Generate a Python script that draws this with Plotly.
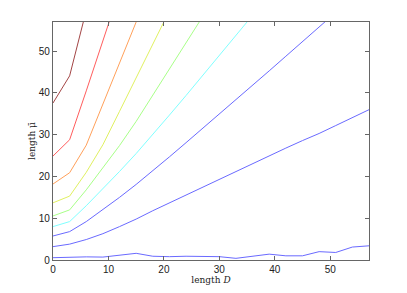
import plotly.graph_objects as go

# contour lines (x = length D, y = length mu-bar)
x_darkred = [0, 3, 6]
y_darkred = [37.6, 44.1, 59.8]

x_red = [0, 3, 6, 9, 12]
y_red = [24.9, 28.8, 40.5, 52.5, 64.5]

x_orange = [0, 3, 6, 9, 12, 15, 18]
y_orange = [18.2, 20.9, 27.5, 37.2, 47.1, 57.0, 67.0]

x_yellow = [0, 3, 6, 9, 12, 15, 18, 21]
y_yellow = [13.7, 15.3, 21.0, 27.6, 35.6, 43.6, 51.6, 59.7]

x_green = [0, 3, 6, 9, 12, 15, 18, 21, 24, 27]
y_green = [10.55, 12.0, 16.8, 22.0, 27.4, 33.2, 39.4, 45.7, 52.0, 58.3]

x_cyan = [0, 3, 6, 9, 12, 15, 18, 21, 24, 27, 30, 33, 36]
y_cyan = [8.0, 9.2, 13.0, 17.0, 21.2, 25.5, 30.0, 34.7, 39.4, 44.2, 49.0, 53.8, 58.6]

x_blue1 = [0, 3, 6, 9, 12, 15, 18, 21, 24, 27, 30, 33, 36, 39, 42, 45, 48, 51]
y_blue1 = [5.75, 6.8, 9.2, 12.0, 15.0, 18.1, 21.3, 24.7, 28.1, 31.5, 34.9, 38.3,
           41.8, 45.3, 48.8, 52.3, 55.8, 59.3]

x_blue2 = [0, 3, 6, 9, 12, 15, 18, 21, 24, 27, 30, 33, 36, 39, 42, 45, 48, 51, 54, 57]
y_blue2 = [3.2, 3.8, 4.9, 6.3, 8.0, 9.8, 11.8, 13.7, 15.5, 17.4, 19.3, 21.2,
           23.1, 25.0, 26.8, 28.6, 30.3, 32.2, 34.1, 36.0]

x_blue3 = [0, 3, 6, 9, 12, 15, 18, 21, 24, 27, 30, 33, 36, 39, 42, 45, 48, 51, 54, 57]
y_blue3 = [0.55, 0.7, 0.75, 0.7, 1.1, 1.6, 0.9, 0.8, 0.9, 0.9, 0.8, 0.4,
           0.9, 1.4, 1.0, 1.0, 2.0, 1.8, 3.1, 3.4]

series = [
    (x_darkred, y_darkred, "#a34545"),
    (x_red, y_red, "#ff5c5c"),
    (x_orange, y_orange, "#ffa05a"),
    (x_yellow, y_yellow, "#e0f060"),
    (x_green, y_green, "#a8ff88"),
    (x_cyan, y_cyan, "#80ffff"),
    (x_blue1, y_blue1, "#6a6aff"),
    (x_blue2, y_blue2, "#6a6aff"),
    (x_blue3, y_blue3, "#6a6aff"),
]

x_ticks = [0, 10, 20, 30, 40, 50]
y_ticks = [0, 10, 20, 30, 40, 50]

fig = go.Figure()
for xs, ys, c in series:
    fig.add_trace(go.Scatter(x=xs, y=ys, mode="lines",
                             line=dict(color=c, width=1), showlegend=False,
                             hoverinfo="skip"))

axis_common = dict(
    showgrid=False, zeroline=False, showline=True, mirror="ticks",
    linecolor="#666666", linewidth=1.3, ticks="inside", ticklen=4,
    tickcolor="#666666", tickwidth=1, automargin=False,
    tickfont=dict(family="Liberation Sans, Arial", size=10, color="#222"),
)

# page body has an 8px default margin, so the figure is sized to fit the window
fig.update_layout(
    width=399, height=285,
    margin=dict(l=45, r=38, t=14, b=33),
    paper_bgcolor="white", plot_bgcolor="white",
    xaxis=dict(range=[0, 57], tickvals=x_ticks, **axis_common,
               title=dict(text="length <i>D</i>", standoff=2,
                          font=dict(family="DejaVu Serif, Liberation Serif", size=9, color="#222"))),
    yaxis=dict(range=[0, 57], tickvals=y_ticks, **axis_common,
               title=dict(text="length \u03bc\u0304", standoff=1,
                          font=dict(family="DejaVu Serif, Liberation Serif", size=9, color="#222"))),
)

fig.write_html("out.html")
